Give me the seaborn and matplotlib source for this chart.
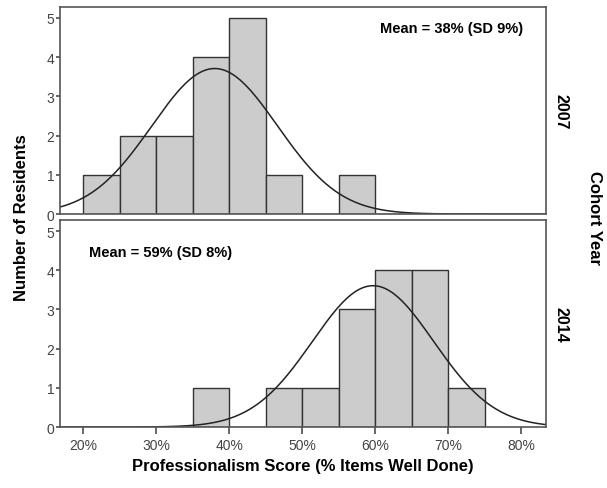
import numpy as np
import pandas as pd
import matplotlib
matplotlib.use('Agg')
import matplotlib.pyplot as plt
import seaborn as sns

# Histogram counts per 5% bin
bin_left = [20, 25, 30, 35, 40, 45, 50, 55, 60, 65, 70]
counts_2007 = [1, 2, 2, 4, 5, 1, 0, 1, 0, 0, 0]
counts_2014 = [0, 0, 0, 1, 0, 1, 1, 3, 4, 4, 1]

# Normal curve parameters
mean_2007, sd_2007 = 38.0, 8.6
mean_2014, sd_2014 = 59.7, 8.3
labels = ['Mean = 38% (SD 9%)', 'Mean = 59% (SD 8%)']
cohorts = ['2007', '2014']

sns.set_theme(style='white')
plt.rcParams['font.family'] = ['Liberation Sans', 'DejaVu Sans']

fig = plt.figure(figsize=(6.07, 4.89), dpi=100)
ax1 = fig.add_axes([0.0988, 0.5603, 0.8007, 0.4233])
ax2 = fig.add_axes([0.0988, 0.1247, 0.8007, 0.4233])

xs = np.linspace(16.8, 83.4, 400)
panels = [(ax1, counts_2007, mean_2007, sd_2007), (ax2, counts_2014, mean_2014, sd_2014)]
for i, (ax, cnt, mu, sd) in enumerate(panels):
    df = pd.DataFrame({'score': np.array(bin_left) + 2.5, 'n': cnt})
    sns.histplot(data=df, x='score', weights='n', binwidth=5, binrange=(20, 75),
                 color='#cccccc', edgecolor='#333333', linewidth=1, alpha=1, ax=ax)
    n = sum(cnt)
    dens = n * 5 / (sd * np.sqrt(2 * np.pi)) * np.exp(-0.5 * ((xs - mu) / sd) ** 2)
    sns.lineplot(x=xs, y=dens, color='#222222', linewidth=1.1, ax=ax)
    ax.set_xlim(16.8, 83.4)
    ax.set_ylim(0, 5.28)
    ax.set_yticks(range(6))
    ax.set_ylabel('')
    ax.set_xlabel('')
    for s in ax.spines.values():
        s.set_color('#555555')
        s.set_linewidth(1.2)
    ax.tick_params(axis='y', left=True, length=3, color='#555555', labelsize=10,
                   labelcolor='#444444', pad=1)
    ax.text(1.03, 0.5, cohorts[i], transform=ax.transAxes, rotation=-90,
            ha='center', va='center', fontsize=11.5, fontweight='bold', color='black')

ax1.set_xticks([])
ax1.text(0.952, 0.9, labels[0], transform=ax1.transAxes, ha='right', va='center',
         fontsize=10.5, fontweight='bold', color='black')
ax2.text(0.06, 0.845, labels[1], transform=ax2.transAxes, ha='left', va='center',
         fontsize=10.5, fontweight='bold', color='black')

ticks = [20, 30, 40, 50, 60, 70, 80]
ax2.set_xticks(ticks)
ax2.set_xticklabels([f'{t}%' for t in ticks])
ax2.tick_params(axis='x', bottom=True, length=5, color='#555555', labelsize=10,
                labelcolor='#444444', pad=3)
ax2.set_xlabel('Professionalism Score (% Items Well Done)', fontsize=12,
               fontweight='bold', labelpad=4, color='black')

fig.text(0.036, 0.555, 'Number of Residents', rotation=90, ha='center', va='center',
         fontsize=12, fontweight='bold', color='black')
fig.text(0.98, 0.555, 'Cohort Year', rotation=-90, ha='center', va='center',
         fontsize=12, fontweight='bold', color='black')

fig.savefig('out.png', dpi=100)
